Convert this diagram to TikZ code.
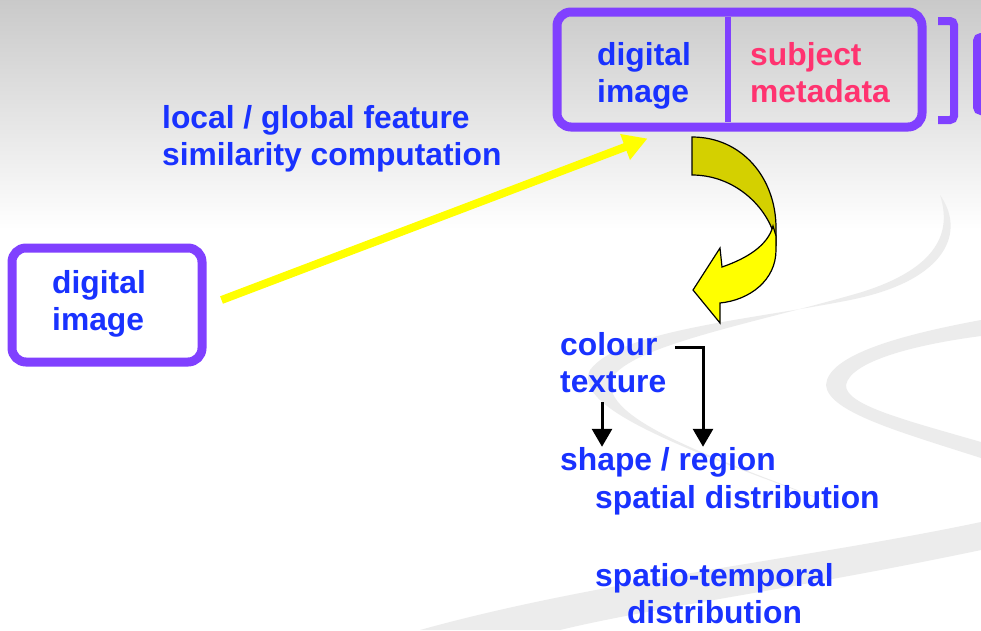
\documentclass[tikz,border=0pt]{standalone}
\usepackage{fontspec}
\setmainfont{Liberation Sans}
\usepackage{xcolor}
\usepackage{tikz}
\usetikzlibrary{arrows.meta}

\definecolor{boxpurple}{RGB}{128,64,255}
\definecolor{textblue}{RGB}{25,50,255}
\definecolor{textpink}{RGB}{255,51,112}
\definecolor{arrowyellow}{RGB}{255,255,0}
\definecolor{arrowolive}{RGB}{212,208,0}
\definecolor{swirl}{RGB}{236,236,236}

\tikzset{
  lbl/.style={anchor=base west, inner sep=0pt, align=left, text=textblue,
    font=\bfseries\fontsize{31.8}{37}\selectfont},
  frame/.style={draw=boxpurple, line width=9pt, rounded corners=14pt},
  flow/.style={draw=black, line width=3pt, -{Triangle[width=20pt,length=18pt]}},
}

\begin{document}
\begin{tikzpicture}[x=1pt,y=-1pt]
    \useasboundingbox (0,0) rectangle (981,630);
    % Background
    \fill[white] (0,0) rectangle (981,630);
    \shade[top color=gray!42, bottom color=white] (0,0) rectangle (981,230);
    \fill[swirl] (940,195) .. controls (965,230) and (950,280) .. (850,300)
        .. controls (750,320) and (620,330) .. (590,370)
        .. controls (570,410) and (700,455) .. (850,510)
        .. controls (720,460) and (598,420) .. (612,378)
        .. controls (632,345) and (760,322) .. (862,292)
        .. controls (938,268) and (952,232) .. (940,195) -- cycle;
    \fill[swirl] (981,320) .. controls (900,335) and (828,355) .. (826,385)
        .. controls (828,412) and (900,432) .. (981,458) -- (981,442)
        .. controls (905,420) and (845,405) .. (846,385)
        .. controls (850,362) and (912,345) .. (981,336) -- cycle;
    \fill[swirl] (420,630) .. controls (600,580) and (800,560) .. (981,522)
        -- (981,550) .. controls (800,588) and (650,608) .. (560,630) -- cycle;

    % Boxes
    \node[frame, minimum width=365pt, minimum height=115pt] (store) at (739.5,69.5) {};
    \draw[boxpurple, line width=6pt] (728,17) -- (728,122);
    \node[lbl] (storeimg) at (597,102) {digital\\image};
    \node[lbl, text=textpink] (storemeta) at (750,102) {subject\\metadata};
    \draw[boxpurple, line width=8pt, rounded corners=4pt] (938,21) -- (954,21) -- (954,120) -- (938,120);
    \draw[boxpurple, line width=8pt, rounded corners=4pt] (995,37) -- (977,37) -- (977,111) -- (995,111);

    \node[frame, fill=white, minimum width=190pt, minimum height=114pt] (query) at (107,305) {};
    \node[lbl] (queryimg) at (52,330) {digital\\image};

    % Labels
    \node[lbl] (simlbl) at (162,165) {local / global feature\\similarity computation};
    \node[lbl] (colour) at (560,392) {colour\\texture};
    \node[lbl] (shape) at (560,470) {shape / region};
    \node[lbl] (spatial) at (595,508) {spatial distribution};
    \node[lbl, align=center] (spatiotemp) at (595,623) {spatio-temporal\\distribution};

    % Yellow arrows
    \draw[arrowyellow, line width=8pt, -{Triangle[width=26pt,length=24pt]}]
        ([shift={(15,-5)}]query.east) -- ([shift={(95,7)}]store.south west);
    \filldraw[fill=arrowolive, draw=black, line width=1.2pt]
        (692,137) .. controls (742,137) and (776,178) .. (776,228) -- (776,246)
        .. controls (774,215) and (740,175) .. (692,175) -- cycle;
    \filldraw[fill=arrowyellow, draw=black, line width=1.2pt]
        (773,226) -- (776,236) -- (776,250) .. controls (776,280) and (750,300) .. (720,303)
        -- (720,323) -- (693,290) -- (720,248) -- (722,267)
        .. controls (748,258) and (768,245) .. (773,226) -- cycle;

    % Black arrows
    \coordinate (colourtail) at (675,347);
    \coordinate (texturetail) at (602,402);
    \draw[flow] (colourtail) -| ([xshift=143pt]shape.north west);
    \draw[flow] (texturetail) -- (texturetail |- shape.north);
\end{tikzpicture}
\end{document}
